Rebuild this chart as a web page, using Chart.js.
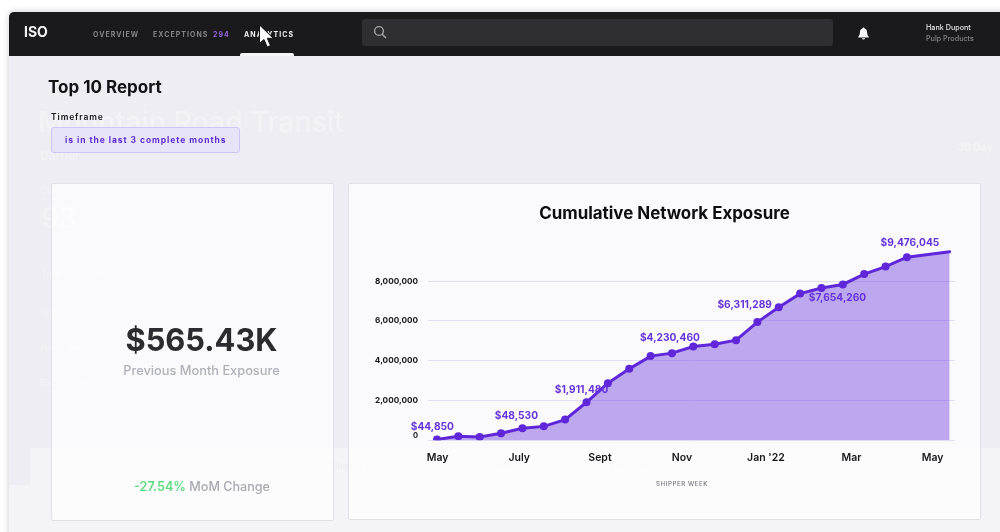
<!DOCTYPE html>
<html>
<head>
<meta charset="utf-8">
<title>Top 10 Report</title>
<script src="https://cdn.jsdelivr.net/npm/chart.js@4"></script>
<style>
html, body { margin: 0; padding: 0; background: #fff; overflow: hidden; }
body { width: 1000px; height: 532px; position: relative; font-family: Inter, sans-serif; }
.page { position: absolute; left: 0; top: 0; width: 1000px; height: 532px; overflow: hidden; filter: blur(0.35px); }
.abs { position: absolute; white-space: nowrap; line-height: 1; }
.window { position: absolute; left: 9px; top: 12px; width: 1000px; height: 530px; background: #eeedf3; border-radius: 5px 0 0 0; box-shadow: 0 0 7px rgba(0,0,0,.2); overflow: hidden; }
.nav { position: absolute; left: 9px; top: 12px; width: 991px; height: 44px; background: #1a1a1c; border-radius: 5px 0 0 0; }
.navitem { font-size: 7px; font-weight: 700; letter-spacing: 1.05px; color: #85858b; top: 30.500px; }
.search { position: absolute; left: 362px; top: 19px; width: 471px; height: 27px; background: #2e2e33; border-radius: 3px; }
.underline { position: absolute; left: 240px; top: 53px; width: 54px; height: 3px; background: #f4f4f6; border-radius: 2px 2px 0 0; }
.ghostband { position: absolute; background: #f3f3f8; }
.ghost { color: rgba(255,255,255,.32); font-weight: 500; }
.faint { color: #eeeef2; font-size: 8.500px; font-weight: 600; }
.card { position: absolute; background: rgba(255,255,255,.72); border: 1px solid #e0e0e8; border-radius: 2px; box-sizing: border-box; }
.pill { position: absolute; left: 51px; top: 127px; width: 189px; height: 26px; box-sizing: border-box; background: #e8e4f8; border: 1px solid #cfc4f4; border-radius: 3px; }
canvas { position: absolute; left: 348px; top: 183px; }
</style>
</head>
<body>
<div class="page">
  <div class="window"></div>
  <div class="ghostband" style="left:30px;top:448px;width:970px;height:84px"></div>
  <div class="ghostband" style="left:9px;top:485px;width:21px;height:47px"></div>

  <div class="abs ghost" style="left:38px;top:108px;font-size:28.500px">Mountain Road Transit</div>
  <div class="abs ghost" style="left:40px;top:150px;font-size:12px">Carrier</div>
  <div class="abs ghost" style="left:958px;top:142px;font-size:10px;font-weight:700">30 Day</div>
  <div class="abs ghost" style="left:40px;top:186px;font-size:9px">Overall Score</div>
  <div class="abs ghost" style="left:41px;top:204px;font-size:28px">93</div>
  <div class="abs ghost" style="left:41px;top:269px;font-size:9px">Total Revenue</div>
  <div class="abs ghost" style="left:41px;top:307px;font-size:9px">Total Paid</div>
  <div class="abs ghost" style="left:41px;top:343px;font-size:9px">Profit Margin</div>
  <div class="abs ghost" style="left:41px;top:378px;font-size:9px">Exception Fines</div>
  <div class="abs faint" style="left:66px;top:462px">New 120</div>
  <div class="abs faint" style="left:176px;top:462px">Carrier Review</div>
  <div class="abs faint" style="left:332px;top:462px">Shipper Review</div>
  <div class="abs faint" style="left:483px;top:462px">Assigned</div>
  <div class="abs faint" style="left:610px;top:462px">Resolved</div>

  <div class="nav"></div>
  <div class="abs" style="left:24px;top:25px;font-size:14px;font-weight:700;color:#f4f4f6">ISO</div>
  <div class="abs navitem" style="left:93px">OVERVIEW</div>
  <div class="abs navitem" style="left:153px">EXCEPTIONS</div>
  <div class="abs navitem" style="left:213px;color:#9468dc">294</div>
  <div class="abs navitem" style="left:244px;color:#f2f2f4">ANALYTICS</div>
  <div class="underline"></div>
  <div class="search"></div>
  <svg class="abs" style="left:373px;top:25px" width="14" height="14" viewBox="0 0 14 14"><circle cx="6" cy="6" r="4.4" fill="none" stroke="#a4a4aa" stroke-width="1.4"/><line x1="9.2" y1="9.2" x2="13" y2="13" stroke="#a4a4aa" stroke-width="1.5"/></svg>
  <svg class="abs" style="left:857px;top:27px" width="13" height="13" viewBox="0 0 13 13"><path d="M6.5 0.5c.6 0 1 .4 1 1 1.8.4 2.6 2 2.6 3.8 0 2 .5 3.2 1.6 4.4v.8H1.300v-.8C2.400 8.500 2.900 7.300 2.900 5.300c0-1.800.8-3.400 2.600-3.800 0-.6.4-1 1-1z" fill="#f6f6f6"/><path d="M5 11.300h3c0 .9-.7 1.300-1.500 1.300S5 12.200 5 11.300z" fill="#f6f6f6"/></svg>
  <div class="abs" style="left:926px;top:23.500px;font-size:7.200px;font-weight:500;color:#e6e6e8">Hank Dupont</div>
  <div class="abs" style="left:926px;top:34.500px;font-size:7.200px;font-weight:500;color:#85858b">Pulp Products</div>

  <div class="abs" style="left:48px;top:79px;font-size:17px;font-weight:700;color:#131316">Top 10 Report</div>
  <div class="abs" style="left:51px;top:113px;font-size:8.500px;font-weight:600;letter-spacing:.9px;color:#17171a">Timeframe</div>
  <div class="pill"></div>
  <div class="abs" style="left:65px;top:136px;font-size:8.500px;font-weight:700;letter-spacing:.95px;color:#5d2bd6">is in the last 3 complete months</div>

  <div class="card" style="left:51px;top:183px;width:283px;height:338px"></div>
  <div class="card" style="left:348px;top:183px;width:633px;height:337px"></div>

  <div class="abs" style="left:60px;width:283px;text-align:center;top:324.500px;font-size:30.800px;font-weight:700;color:#2c2c30">$565.43K</div>
  <div class="abs" style="left:60px;width:283px;text-align:center;top:364.500px;font-size:12.800px;font-weight:500;color:#b0b0bb">Previous Month Exposure</div>
  <div class="abs" style="left:134px;top:480.500px;font-size:12.600px;font-weight:500;color:#a8a8b2"><span style="color:#5fdc80;font-weight:600">-27.54%</span> MoM Change</div>

  <canvas id="exposureChart" width="633" height="336"></canvas>
  <div class="abs" style="left:656px;top:480.500px;font-size:6.200px;font-weight:500;letter-spacing:.55px;color:#77777f">SHIPPER WEEK</div>

  <svg class="abs" style="left:258px;top:24px" width="17" height="25" viewBox="0 0 17 25"><path d="M1.500 1v18.500l4.500-4 3.200 7.500 3.300-1.400-3.200-7.300h6z" fill="#fff" stroke="#111" stroke-width="1"/></svg>
</div>

<script>
// x counts the two-weekly points from the first May
const periods = [0, 1, 2, 3, 4, 5, 6, 7, 8, 9, 10, 11, 12, 13, 14, 15, 16, 17, 18, 19, 20, 21, 22, 24];
const exposure = [44850, 200000, 166000, 350000, 600000, 700000, 1040000, 1911480, 2870000, 3590000, 4230460, 4380000,
    4710000, 4830000, 5030000, 5940000, 6690000, 7370000, 7654260, 7830000, 8350000, 8730000, 9200000, 9476045];

const monthLabels = ['May', 'July', 'Sept', 'Nov', "Jan '22", 'Mar', 'May'];
const monthTicks = [0.03, 3.85, 7.63, 11.47, 15.4, 19.4, 23.2];
const yTicks = [0, 2000000, 4000000, 6000000, 8000000];

const calloutIndex = [0, 4, 7, 10, 15, 18, 22];
const calloutText = ['$44,850', '$48,530', '$1,911,480', '$4,230,460', '$6,311,289', '$7,654,260', '$9,476,045'];
const calloutDx = [-4.6, -6, -5, 19.3, -12.7, 16, 3];
const calloutDy = [-12.3, -12.3, -12, -18, -17, 10, -14.7];

const PURPLE = '#5f27d9';

const calloutPlugin = {
    id: 'callouts',
    afterDatasetsDraw(chart) {
        const ctx = chart.ctx;
        const x = chart.scales.x;
        const y = chart.scales.y;
        ctx.save();
        ctx.font = '700 10.2px Inter';
        ctx.fillStyle = '#6431dc';
        ctx.textAlign = 'center';
        ctx.textBaseline = 'middle';
        calloutIndex.forEach((idx, i) => {
            ctx.fillText(calloutText[i], x.getPixelForValue(periods[idx]) + calloutDx[i], y.getPixelForValue(exposure[idx]) + calloutDy[i]);
        });
        ctx.restore();
    }
};

new Chart(document.getElementById('exposureChart').getContext('2d'), {
    type: 'line',
    data: {
        datasets: [{
            data: periods.map((p, i) => ({ x: p, y: exposure[i] })),
            borderColor: PURPLE,
            borderWidth: 3,
            backgroundColor: 'rgba(106, 53, 221, 0.42)',
            fill: true,
            tension: 0,
            borderCapStyle: 'round',
            pointBackgroundColor: PURPLE,
            pointBorderWidth: 0,
            pointRadius: ctx => (ctx.dataIndex === periods.length - 1 ? 0 : 4)
        }]
    },
    plugins: [calloutPlugin],
    options: {
        responsive: false,
        animation: false,
        devicePixelRatio: 1,
        plugins: {
            legend: { display: false },
            tooltip: { enabled: false },
            title: {
                display: true,
                text: 'Cumulative Network Exposure',
                color: '#0e0e10',
                font: { family: 'Inter', size: 16.9, weight: '700' },
                padding: { top: 21, bottom: 17 }
            }
        },
        scales: {
            x: {
                type: 'linear',
                min: -0.42,
                max: 24.25,
                afterBuildTicks: axis => { axis.ticks = monthTicks.map(v => ({ value: v })); },
                afterFit: axis => { axis.height = 78.7; },
                grid: { display: false },
                border: { display: false },
                ticks: {
                    autoSkip: false,
                    maxRotation: 0,
                    padding: 3,
                    color: '#17171a',
                    font: { family: 'Inter', size: 10.5, weight: '600' },
                    callback: (value, index) => monthLabels[index]
                }
            },
            y: {
                min: 0,
                max: 10000000,
                afterBuildTicks: axis => { axis.ticks = yTicks.map(v => ({ value: v })); },
                afterFit: axis => { axis.width = 80; },
                grid: { color: '#e2ddf6', lineWidth: 1, drawTicks: false },
                border: { display: false },
                ticks: {
                    padding: 10,
                    color: '#17171a',
                    font: ctx => ({ family: 'Inter', size: ctx.tick && ctx.tick.value === 0 ? 7.5 : 8.2, weight: '700' }),
                    callback: value => (value === 0 ? ['0', ''] : value.toLocaleString('en-US'))
                }
            },
            // empty axis, only keeps the plot clear of the right card edge
            rightGap: {
                position: 'right',
                afterFit: axis => { axis.width = 26; },
                grid: { display: false },
                border: { display: false },
                ticks: { display: false }
            }
        }
    }
});
</script>
</body>
</html>
